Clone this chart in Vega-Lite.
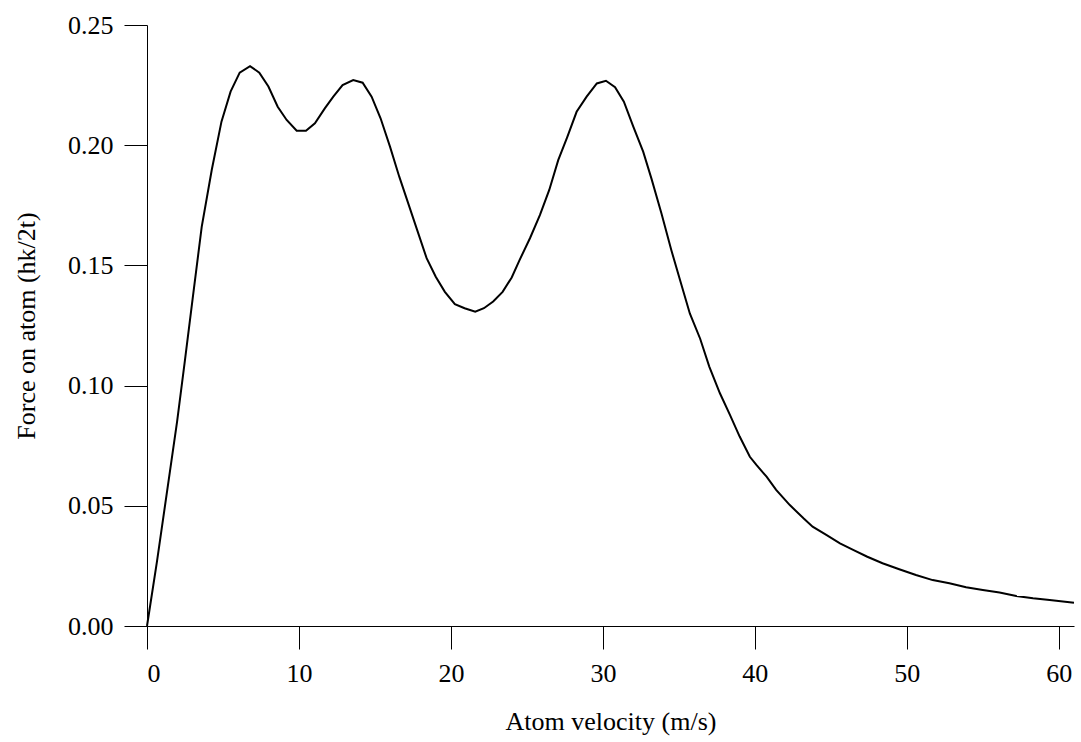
{
  "$schema": "https://vega.github.io/schema/vega-lite/v6.json",
  "width": 927,
  "height": 601,
  "autosize": {"type": "none"},
  "padding": {"left": 147, "top": 25, "right": 7, "bottom": 116},
  "background": "white",
  "config": {
    "view": {"stroke": null},
    "font": "Liberation Serif",
    "axis": {
      "grid": false,
      "domainColor": "black",
      "tickColor": "black",
      "labelColor": "black",
      "titleColor": "black",
      "labelFont": "Liberation Serif",
      "titleFont": "Liberation Serif",
      "labelFontSize": 26,
      "titleFontSize": 26,
      "titleFontWeight": "normal",
      "tickSize": 23,
      "domainWidth": 1,
      "tickWidth": 1
    }
  },
  "data": {
    "values": [
      {"v": 0, "f": 0},
      {"v": 0.66, "f": 0.027},
      {"v": 1.32, "f": 0.056},
      {"v": 1.98, "f": 0.085},
      {"v": 2.5, "f": 0.1107},
      {"v": 3.0, "f": 0.136},
      {"v": 3.6, "f": 0.166},
      {"v": 4.26, "f": 0.1897},
      {"v": 4.9, "f": 0.2098},
      {"v": 5.5, "f": 0.2223},
      {"v": 6.1, "f": 0.2302},
      {"v": 6.78, "f": 0.2329},
      {"v": 7.39, "f": 0.2302},
      {"v": 7.99, "f": 0.2244},
      {"v": 8.6, "f": 0.216},
      {"v": 9.19, "f": 0.2105},
      {"v": 9.85, "f": 0.206},
      {"v": 10.46, "f": 0.206},
      {"v": 11.05, "f": 0.2091},
      {"v": 11.7, "f": 0.2153},
      {"v": 12.26, "f": 0.2202},
      {"v": 12.87, "f": 0.225},
      {"v": 13.57, "f": 0.2271},
      {"v": 14.19, "f": 0.226},
      {"v": 14.78, "f": 0.2202},
      {"v": 15.37, "f": 0.2112},
      {"v": 15.99, "f": 0.1994},
      {"v": 16.6, "f": 0.1869},
      {"v": 17.19, "f": 0.1758},
      {"v": 17.78, "f": 0.1647},
      {"v": 18.4, "f": 0.153},
      {"v": 19.0, "f": 0.1453},
      {"v": 19.6, "f": 0.139},
      {"v": 20.26, "f": 0.1339},
      {"v": 20.9, "f": 0.1322},
      {"v": 21.6, "f": 0.1307},
      {"v": 22.17, "f": 0.1322},
      {"v": 22.78, "f": 0.135},
      {"v": 23.4, "f": 0.139},
      {"v": 24.0, "f": 0.145},
      {"v": 24.5, "f": 0.152},
      {"v": 25.2, "f": 0.1613},
      {"v": 25.86, "f": 0.171},
      {"v": 26.47, "f": 0.1814},
      {"v": 27.06, "f": 0.1938},
      {"v": 27.66, "f": 0.2035},
      {"v": 28.27, "f": 0.2139},
      {"v": 28.93, "f": 0.2202},
      {"v": 29.6, "f": 0.2257},
      {"v": 30.2, "f": 0.2268},
      {"v": 30.8, "f": 0.2241},
      {"v": 31.38, "f": 0.2181},
      {"v": 32.0, "f": 0.2077},
      {"v": 32.65, "f": 0.1973},
      {"v": 33.2, "f": 0.186},
      {"v": 33.85, "f": 0.1717},
      {"v": 34.5, "f": 0.1564},
      {"v": 35.07, "f": 0.144},
      {"v": 35.72, "f": 0.130},
      {"v": 36.4, "f": 0.1195},
      {"v": 37.0, "f": 0.1079},
      {"v": 37.7, "f": 0.0968},
      {"v": 38.36, "f": 0.0878},
      {"v": 39.0, "f": 0.0788},
      {"v": 39.67, "f": 0.0704},
      {"v": 40.1, "f": 0.067},
      {"v": 40.77, "f": 0.0621},
      {"v": 41.4, "f": 0.0566},
      {"v": 42.3, "f": 0.0503},
      {"v": 43.2, "f": 0.0448},
      {"v": 43.8, "f": 0.0413},
      {"v": 44.7, "f": 0.0379},
      {"v": 45.6, "f": 0.0344},
      {"v": 46.5, "f": 0.0316},
      {"v": 47.4, "f": 0.0288},
      {"v": 48.4, "f": 0.0261},
      {"v": 49.5, "f": 0.0236},
      {"v": 50.6, "f": 0.0212},
      {"v": 51.7, "f": 0.0191},
      {"v": 52.8, "f": 0.0178},
      {"v": 53.9, "f": 0.0161},
      {"v": 55.0, "f": 0.015},
      {"v": 56.1, "f": 0.0139},
      {"v": 57.2, "f": 0.0125},
      {"v": 58.3, "f": 0.0115},
      {"v": 59.4, "f": 0.0108},
      {"v": 61.0, "f": 0.0097}
    ]
  },
  "mark": {"type": "line", "color": "black", "strokeWidth": 2},
  "encoding": {
    "x": {
      "field": "v",
      "type": "quantitative",
      "scale": {"domain": [0, 61], "nice": false, "zero": false},
      "axis": {"title": "Atom velocity (m/s)", "values": [0, 10, 20, 30, 40, 50, 60], "labelPadding": 11, "titlePadding": 22}
    },
    "y": {
      "field": "f",
      "type": "quantitative",
      "scale": {"domain": [0, 0.25], "nice": false},
      "axis": {"title": "Force on atom (hk/2t)", "values": [0, 0.05, 0.1, 0.15, 0.2, 0.25], "format": ".2f", "labelPadding": 11, "titlePadding": 28}
    }
  }
}
